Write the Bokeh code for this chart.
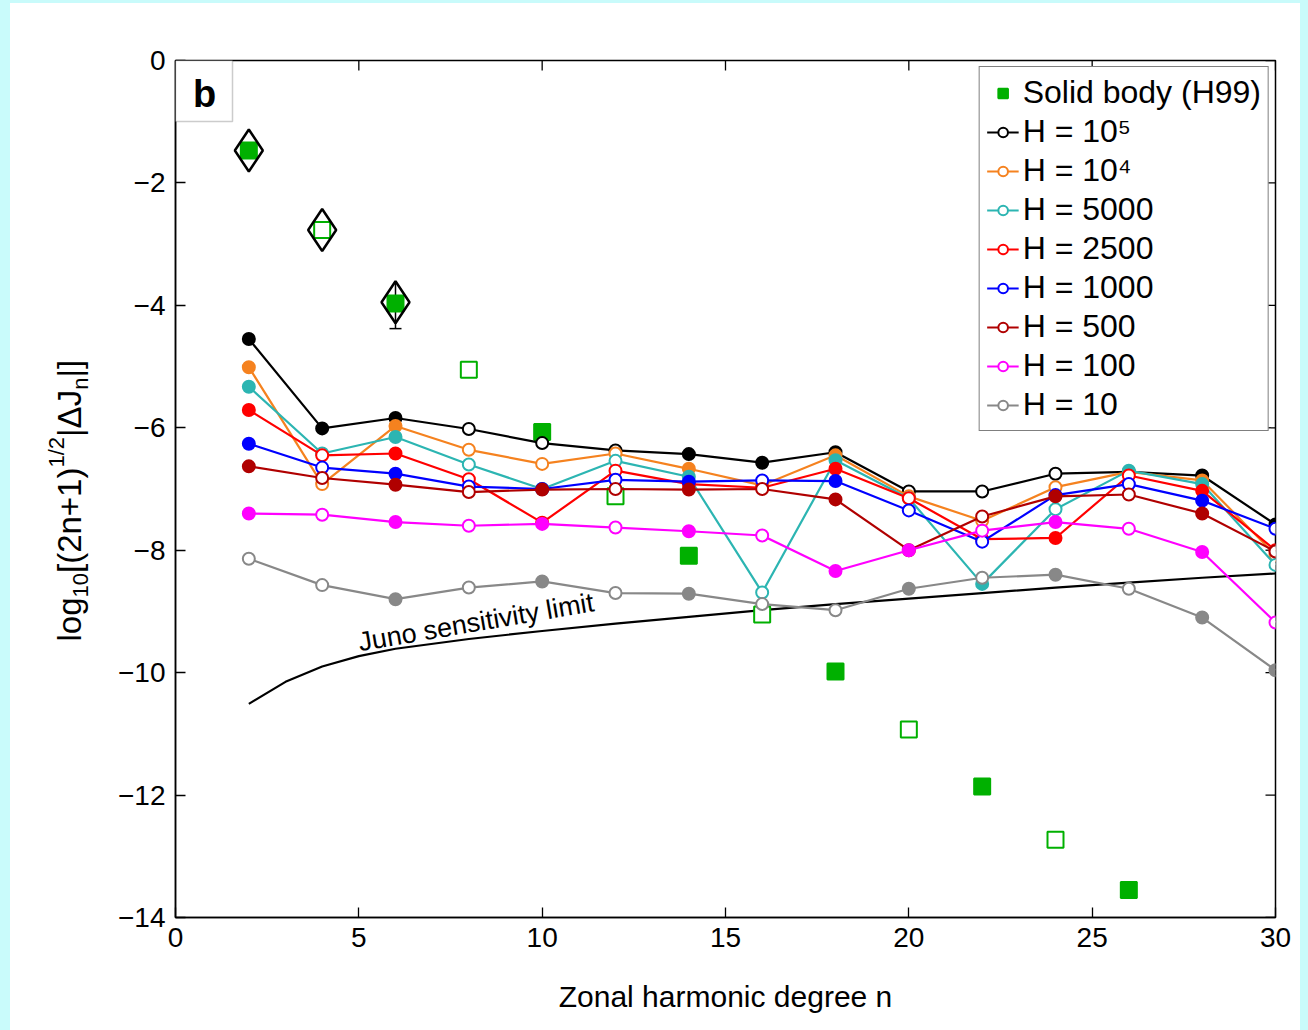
import math
from bokeh.plotting import figure
from bokeh.layouts import row
from bokeh.models import (Range1d, FixedTicker, Legend, LegendItem, Label,
                          BoxAnnotation, Whisker, ColumnDataSource, TeeHead)
from bokeh.embed import file_html
from bokeh.resources import INLINE

# ---------------- data ----------------
n = [2, 4, 6, 8, 10, 12, 14, 16, 18, 20, 22, 24, 26, 28, 30]

h_1e5 = [-4.55, -6.01, -5.84, -6.02, -6.25, -6.37, -6.43, -6.57, -6.40, -7.04, -7.04, -6.75, -6.72, -6.78, -7.58]
h_1e5_sign = "+++---+++----++"
h_1e4 = [-5.01, -6.92, -5.97, -6.36, -6.59, -6.42, -6.67, -6.94, -6.45, -7.12, -7.52, -6.97, -6.72, -6.86, -8.08]
h_1e4_sign = "+-+---+-+----+-"
h_5000 = [-5.33, -6.42, -6.15, -6.60, -7.00, -6.54, -6.80, -8.69, -6.53, -7.15, -8.55, -7.33, -6.70, -6.92, -8.24]
h_5000_sign = "+-+---+-+-+-++-"
h_2500 = [-5.71, -6.45, -6.42, -6.84, -7.55, -6.70, -6.92, -6.98, -6.67, -7.15, -7.82, -7.80, -6.78, -7.03, -8.00]
h_2500_sign = "+-+-+-+-+--+-+-"
h_1000 = [-6.26, -6.65, -6.75, -6.96, -7.00, -6.85, -6.88, -6.86, -6.87, -7.35, -7.86, -7.10, -6.92, -7.19, -7.65]
h_1000_sign = "+-+-+-+-+--+-+-"
h_500 = [-6.63, -6.82, -6.93, -7.05, -7.01, -7.00, -7.01, -7.00, -7.17, -8.00, -7.45, -7.12, -7.09, -7.40, -8.02]
h_500_sign = "+-+-+-+-++-+-+-"
h_100 = [-7.40, -7.42, -7.54, -7.60, -7.57, -7.63, -7.69, -7.76, -8.34, -8.00, -7.68, -7.54, -7.65, -8.03, -9.18]
h_100_sign = "+-+-+-+-++-+-+-"
h_10 = [-8.14, -8.57, -8.80, -8.61, -8.51, -8.70, -8.71, -8.88, -8.98, -8.63, -8.45, -8.40, -8.63, -9.10, -9.96]
h_10_sign = "--+-+-+--+-+-++"

series_labels = ["H = 10\u2075", "H = 10\u2074", "H = 5000", "H = 2500",
                 "H = 1000", "H = 500", "H = 100", "H = 10"]

# solid body (H99)
solid_n = [2, 4, 6, 8, 10, 12, 14, 16, 18, 20, 22, 24, 26]
solid_val = [-1.47, -2.77, -3.97, -5.05, -6.07, -7.12, -8.09, -9.05, -9.98, -10.93, -11.86, -12.73, -13.55]
solid_sign = "+-+-+-+-+-+-+"

# observed values (diamonds) with error bars
obs_n = [2, 4, 6]
obs_val = [-1.47, -2.77, -3.95]
obs_err_lo = [0.0, 0.0, 0.43]
obs_err_hi = [0.0, 0.0, 0.33]

# Juno sensitivity limit
juno_n = [2, 3, 4, 5, 6, 8, 10, 12, 14, 16, 18, 20, 22, 24, 26, 28, 30]
juno_val = [-10.51, -10.15, -9.90, -9.73, -9.61, -9.45, -9.32, -9.20, -9.09, -8.98,
            -8.88, -8.79, -8.70, -8.61, -8.53, -8.45, -8.38]

x_ticks = [0, 5, 10, 15, 20, 25, 30]
y_ticks = [-14, -12, -10, -8, -6, -4, -2, 0]

# ---------------- layout constants (page pixels) ----------------
FONT = "Liberation Sans"
TXT = "black"
colors = ["#000000", "#f5821f", "#2cb5b2", "#ff0000", "#0000ff", "#b00000", "#ff00ff", "#888888"]
GREEN = "#00b000"

PAD_L, PAD_T = 10, 3            # white panel offset (cyan border)
TOT_W, TOT_H = 1290, 1026
LW = 100                         # width of y-label strip
FL, FT, FW, FH = 175, 60, 1100, 857   # frame box in page px
MW = TOT_W - LW
ML = FL - PAD_L - LW
MT = FT - PAD_T

def px2x(px):
    return (px - FL) / FW * 30.0

def py2y(py):
    return -(py - FT) / FH * 14.0

# ---------------- y-label strip (frame is aligned with the main frame) ----------------
lab_fig = figure(width=LW, height=TOT_H, x_range=Range1d(0, LW), y_range=Range1d(-14, 0),
                 output_backend="svg", toolbar_location=None,
                 x_axis_location=None, y_axis_location=None,
                 min_border_left=0, min_border_right=0, min_border_top=MT,
                 min_border_bottom=TOT_H - MT - FH)
lab_fig.outline_line_color = None
lab_fig.xgrid.grid_line_color = None
lab_fig.ygrid.grid_line_color = None
lab_fig.border_fill_color = "white"
lab_fig.background_fill_color = "white"

WID = {"l": .222, "o": .556, "g": .556, "1": .556, "0": .556, "[": .278, "(": .333,
       "2": .556, "n": .556, "+": .584, ")": .333, "/": .278, "|": .26,
       "\u0394": .668, "J": .5, "]": .278}
# (text, font size, baseline x in page px)
pieces = [("log", 33, 80), ("10", 22, 88), ("[(2n+1)", 33, 80), ("1/2", 22, 64),
          ("|\u0394J", 33, 80), ("n", 22, 88), ("|]", 33, 80)]
cur = 641.0
for txt, sz, bx in pieces:
    w = sum(WID.get(ch, .556) for ch in txt) * sz
    cx = bx - 0.3465 * sz           # centre of the text box (rotated: 'up' is to the left)
    cy = cur - w / 2
    lab_fig.add_layout(Label(x=cx - PAD_L, y=py2y(cy), text=txt, text_font=FONT,
                             text_font_size=f"{sz}px", angle=math.pi / 2, text_color=TXT,
                             text_align="center", text_baseline="middle"))
    cur -= w

# ---------------- main figure ----------------
p = figure(width=MW, height=TOT_H, x_range=Range1d(0, 30), y_range=Range1d(-14, 0),
           output_backend="svg", toolbar_location=None,
           min_border_left=ML, min_border_right=MW - ML - FW,
           min_border_top=MT, min_border_bottom=TOT_H - MT - FH)
p.xgrid.grid_line_color = None
p.ygrid.grid_line_color = None
p.outline_line_color = "black"
p.outline_line_width = 1.5
p.background_fill_color = "white"
p.border_fill_color = "white"

def fmt(v):
    return ("\u2212" + str(abs(v))) if v < 0 else str(v)

for ax in (p.xaxis[0], p.yaxis[0]):
    ax.axis_line_color = "black"
    ax.axis_line_width = 1.5
    ax.major_tick_line_color = "black"
    ax.major_tick_line_width = 1.3
    ax.major_tick_in = 10
    ax.major_tick_out = 0
    ax.minor_tick_line_color = None
    ax.major_label_text_font = FONT
    ax.major_label_text_font_size = "28px"
    ax.major_label_text_color = TXT
    ax.major_label_standoff = 10
p.xaxis.ticker = FixedTicker(ticks=x_ticks)
p.yaxis.ticker = FixedTicker(ticks=y_ticks)
p.xaxis.major_label_overrides = {t: fmt(t) for t in x_ticks}
p.yaxis.major_label_overrides = {t: fmt(t) for t in y_ticks}
p.xaxis.axis_label = "Zonal harmonic degree n"
p.xaxis.axis_label_text_font = FONT
p.xaxis.axis_label_text_font_size = "30px"
p.xaxis.axis_label_text_font_style = "normal"
p.xaxis.axis_label_text_color = TXT
p.xaxis.axis_label_standoff = 30

# inward ticks on the top and right edges of the box
tick_dy = 10 / FH * 14.0
tick_dx = 10 / FW * 30.0
p.segment(x0=x_ticks, y0=[0] * len(x_ticks), x1=x_ticks, y1=[-tick_dy] * len(x_ticks),
          line_color="black", line_width=1.3)
p.segment(x0=[30] * len(y_ticks), y0=y_ticks, x1=[30 - tick_dx] * len(y_ticks), y1=y_ticks,
          line_color="black", line_width=1.3)

# ---------------- panel label "b" ----------------
p.add_layout(BoxAnnotation(left=0, right=px2x(232), top=0, bottom=py2y(121),
                           fill_color="white", fill_alpha=1,
                           line_color="#555555", line_width=1.5))
p.add_layout(Label(x=px2x(204), y=py2y(93), text="b", text_font=FONT, text_color=TXT,
                   text_font_size="38px", text_font_style="bold",
                   text_align="center", text_baseline="middle"))

# ---------------- Juno sensitivity limit ----------------
p.line(juno_n, juno_val, line_color="black", line_width=2.2)
p.add_layout(Label(x=px2x(358), y=py2y(642), text="Juno sensitivity limit",
                   text_font=FONT, text_font_size="27px", angle=0.17, text_color=TXT,
                   text_align="left", text_baseline="alphabetic"))

# ---------------- solid body squares ----------------
solid_src = ColumnDataSource(dict(
    n=solid_n, v=solid_val,
    fill=[GREEN if s == "+" else "white" for s in solid_sign]))
r_sq = p.scatter(x="n", y="v", source=solid_src, marker="square", size=16,
                 line_color=GREEN, line_width=2, fill_color="fill")
items = [LegendItem(label="Solid body (H99)", renderers=[r_sq], index=solid_sign.index("+"))]

# ---------------- series ----------------
all_series = [(h_1e5, h_1e5_sign), (h_1e4, h_1e4_sign), (h_5000, h_5000_sign),
              (h_2500, h_2500_sign), (h_1000, h_1000_sign), (h_500, h_500_sign),
              (h_100, h_100_sign), (h_10, h_10_sign)]
for (vals, signs), c, lab in zip(all_series, colors, series_labels):
    src = ColumnDataSource(dict(n=n, v=vals,
                                fill=[c if s == "+" else "white" for s in signs]))
    rl = p.line(x="n", y="v", source=src, line_color=c, line_width=2.2)
    rs = p.scatter(x="n", y="v", source=src, marker="circle", size=12,
                   line_color=c, line_width=2, fill_color="fill")
    items.append(LegendItem(label=lab, renderers=[rl, rs], index=signs.index("-")))

# ---------------- observed diamonds ----------------
err_idx = [i for i in range(len(obs_n)) if obs_err_lo[i] > 0 or obs_err_hi[i] > 0]
wsrc = ColumnDataSource(dict(
    n=[obs_n[i] for i in err_idx],
    lo=[obs_val[i] - obs_err_lo[i] for i in err_idx],
    hi=[obs_val[i] + obs_err_hi[i] for i in err_idx]))
p.add_layout(Whisker(base="n", lower="lo", upper="hi", source=wsrc,
                     line_color="black", line_width=1.5,
                     lower_head=TeeHead(size=12, line_color="black", line_width=1.5),
                     upper_head=None))
p.scatter(obs_n, obs_val, marker="diamond", size=42, line_color="black",
          line_width=2.5, fill_color=None)

# ---------------- legend ----------------
legend = Legend(items=items, location="top_right", margin=6, padding=7, spacing=2,
                glyph_width=32, glyph_height=24, label_height=30, label_standoff=4,
                label_text_font=FONT, label_text_font_size="32px", label_text_color=TXT,
                border_line_color="black", border_line_width=1.5,
                background_fill_color="white", background_fill_alpha=1)
p.add_layout(legend)

layout = row(lab_fig, p)
html = file_html(layout, INLINE)
style = ("<style>html { background-color: #c9fbfb !important; }"
         " body { background-color: white !important; margin: %dpx 0 0 %dpx !important;"
         " padding: 0 !important; width: %dpx !important; height: %dpx !important; }</style>"
         % (PAD_T, PAD_L, TOT_W, TOT_H + 1))
html = html.replace("</head>", style + "</head>", 1)
open("out.html", "w").write(html)
